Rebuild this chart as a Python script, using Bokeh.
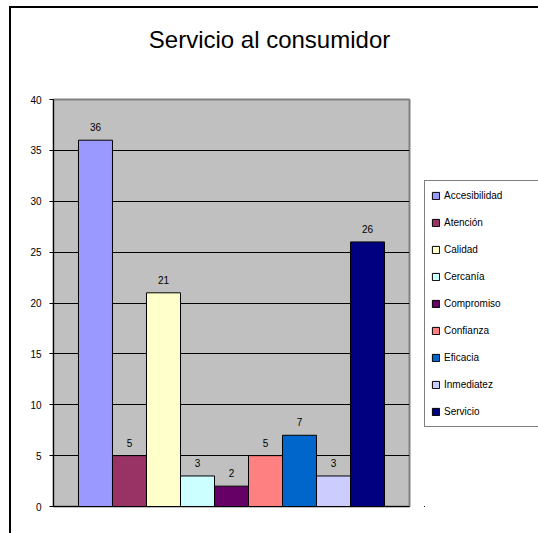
from bokeh.plotting import figure
from bokeh.layouts import column, row
from bokeh.models import Legend, LegendItem, Label, ColumnDataSource
from bokeh.core.properties import value
from bokeh.embed import file_html
from bokeh.resources import INLINE

title_text = "Servicio al consumidor"
categories = ["Accesibilidad", "Atención", "Calidad", "Cercanía", "Compromiso",
              "Confianza", "Eficacia", "Inmediatez", "Servicio"]
values = [36, 5, 21, 3, 2, 5, 7, 3, 26]
colors = ["#9999FF", "#993366", "#FFFFCC", "#CCFFFF", "#660066",
          "#FF8080", "#0066CC", "#CCCCFF", "#000080"]
y_ticks = [0, 5, 10, 15, 20, 25, 30, 35, 40]

FONT = "Liberation Sans"

# ---- title strip ----
tf = figure(width=538, height=93, output_backend="svg", toolbar_location=None,
            x_range=(0, 538), y_range=(0, 93), min_border=0,
            x_axis_location=None, y_axis_location=None)
tf.grid.visible = False
tf.outline_line_color = None
tf.background_fill_alpha = 0
tf.border_fill_alpha = 0
tf.add_layout(Label(x=269, y=54, text=title_text, text_align="center",
                    text_baseline="alphabetic", text_font=FONT,
                    text_font_size="24px", text_color="black"))

# ---- main chart ----
p = figure(width=424, height=440, frame_width=356, frame_height=407,
           output_backend="svg", toolbar_location=None,
           x_range=(-1.235, 9.235), y_range=(0, 40),
           min_border_left=53, min_border_right=15, min_border_top=6, min_border_bottom=27)
p.background_fill_color = "#C0C0C0"
p.border_fill_alpha = 0
p.outline_line_color = "#808080"
p.outline_line_width = 2

xs = list(range(len(categories)))
src = ColumnDataSource(dict(x=xs, top=values, label=[str(v) for v in values]))

for i in range(len(categories)):
    p.vbar(x=[xs[i]], top=[values[i]], width=1, bottom=0,
           fill_color=colors[i], line_color="black", line_width=1)

p.text(x="x", y="top", text="label", source=src, text_align="center",
       text_baseline="alphabetic", y_offset=-13, text_font=value(FONT),
       text_font_size="10px", text_color="black")

p.yaxis.ticker = y_ticks
p.yaxis.axis_line_color = "black"
p.yaxis.major_tick_line_color = "black"
p.yaxis.major_tick_out = 4
p.yaxis.major_tick_in = 0
p.yaxis.minor_tick_line_color = None
p.yaxis.major_label_standoff = 8
p.yaxis.major_label_text_font = FONT
p.yaxis.major_label_text_font_size = "10px"
p.yaxis.major_label_text_color = "black"

p.xaxis.ticker = []
p.xaxis.axis_line_color = "black"
p.xaxis.major_tick_line_color = None
p.xaxis.minor_tick_line_color = None
p.xaxis.major_label_text_font_size = "0px"

p.xgrid.grid_line_color = None
p.ygrid.ticker = y_ticks[1:-1]
p.ygrid.grid_line_color = "black"
p.ygrid.grid_line_width = 1

# ---- legend panel (its key bars lie outside its visible ranges) ----
lf = figure(width=114, height=440, output_backend="svg", toolbar_location=None,
            x_range=(100, 101), y_range=(100, 101), min_border=0,
            x_axis_location=None, y_axis_location=None)
lf.grid.visible = False
lf.outline_line_color = None
lf.background_fill_alpha = 0
lf.border_fill_alpha = 0

key_renderers = []
for i in range(len(categories)):
    r = lf.vbar(x=[xs[i]], top=[values[i]], width=1, bottom=0,
                fill_color=colors[i], line_color="black", line_width=1)
    key_renderers.append(r)

items = [LegendItem(label=c, renderers=[r]) for c, r in zip(categories, key_renderers)]
legend = Legend(items=items, location=(0, 79), orientation="vertical",
                glyph_width=9, glyph_height=9, label_height=17, spacing=10,
                padding=6, margin=0, label_standoff=4, label_width=88,
                label_text_font=FONT, label_text_font_size="10px",
                label_text_color="black",
                border_line_color="black", border_line_width=1,
                background_fill_color="white", background_fill_alpha=1)
lf.add_layout(legend)

layout = column(tf, row(p, lf, spacing=0), spacing=0,
                styles={"box-shadow": "inset 9px 6px 0 0 #ffffff, inset 11px 8px 0 0 #000000"})

open("out.html", "w").write(file_html(layout, INLINE))
